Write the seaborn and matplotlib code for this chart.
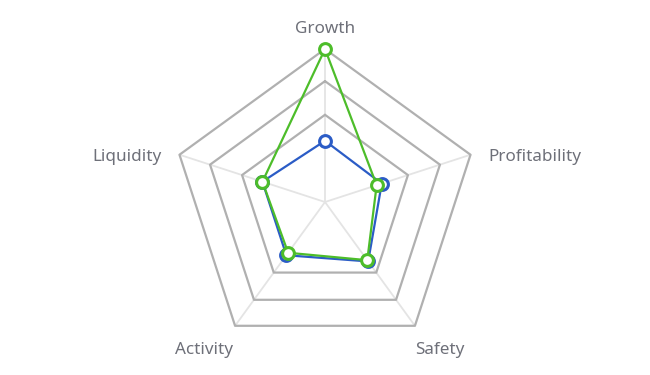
import numpy as np
import matplotlib
matplotlib.use("Agg")
import matplotlib.pyplot as plt
import seaborn as sns
import pandas as pd

categories = ["Growth", "Profitability", "Safety", "Activity", "Liquidity"]
series_a = [0.40, 0.39, 0.48, 0.43, 0.43]
series_b = [1.00, 0.355, 0.47, 0.41, 0.43]
ring_levels = [0.57, 0.79, 1.0]

sns.set_theme(style="white")
plt.rcParams["font.family"] = ["Noto Sans", "DejaVu Sans"]

fig = plt.figure(figsize=(6.5, 3.75), dpi=100)
ax = fig.add_axes([0.2646, 0.0533, 0.4708, 0.816], projection="polar")
ax.set_theta_offset(np.pi / 2)
ax.set_theta_direction(-1)
ax.set_ylim(0, 1)
ax.axis("off")

n = len(categories)
angles = np.linspace(0, 2 * np.pi, n, endpoint=False)
closed = np.append(angles, angles[0])

# spokes
for a in angles:
    ax.plot([a, a], [0, 1], color="#e4e4e4", lw=1.3, zorder=1, clip_on=False)
# rings
for lv in ring_levels:
    ax.plot(closed, [lv] * (n + 1), color="#b0b0b0", lw=1.6, zorder=2, clip_on=False)

df = pd.DataFrame({
    "theta": np.concatenate([closed, closed]),
    "r": np.concatenate([series_a + series_a[:1], series_b + series_b[:1]]),
    "series": ["A"] * (n + 1) + ["B"] * (n + 1),
})
colors = {"A": "#2b5cc6", "B": "#4dbd2a"}
for name, g in df.groupby("series"):
    ax.plot(g["theta"], g["r"], color=colors[name], lw=1.6, zorder=3, clip_on=False)
    ax.plot(g["theta"][:-1], g["r"][:-1], ls="none", marker="o", ms=8.5,
            mfc="white", mec=colors[name], mew=2.2, zorder=4, clip_on=False)

label_offsets = {
    "Growth": (0, 20, "center"),
    "Profitability": (18, -2, "left"),
    "Safety": (25, -24, "center"),
    "Activity": (-31, -24, "center"),
    "Liquidity": (-18, -2, "right"),
}
for a, c in zip(angles, categories):
    dx, dy, ha = label_offsets[c]
    ax.annotate(c, xy=(a, 1.0), xytext=(dx, dy), textcoords="offset pixels",
                ha=ha, va="center", fontsize=12.3, color="#6e7079",
                annotation_clip=False)

fig.savefig("out.png", dpi=100)
